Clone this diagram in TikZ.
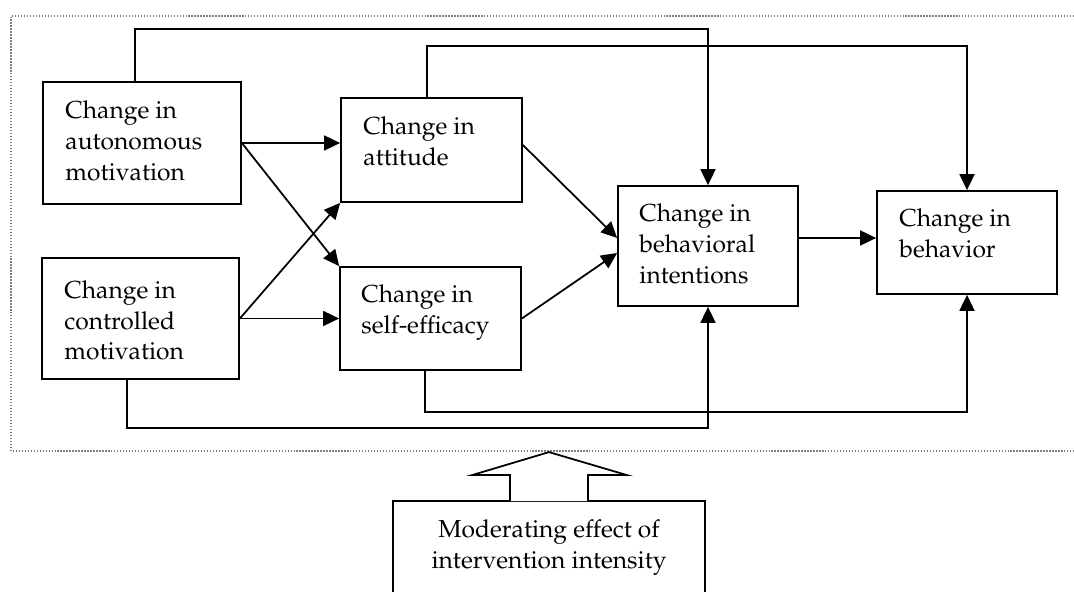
\documentclass[tikz,border=0pt]{standalone}
\usepackage[T1]{fontenc}
\usepackage{mathpazo}
\usepackage{tikz}
\usetikzlibrary{arrows.meta}
\usetikzlibrary{calc}
\usetikzlibrary{positioning}

\begin{document}
\begin{tikzpicture}
	\useasboundingbox (0,0) rectangle (21.48,11.84);
	\clip (0,0) rectangle (21.48,11.84);

	% dotted frame
	\draw[gray, densely dotted, line width=0.7pt] (21.48,11.52) -- (0.22,11.52) -- (0.22,2.82) -- (21.48,2.82);

	\begin{scope}[every node/.style={rectangle, draw, line width=1pt, inner sep=0pt}]
		\node[minimum width=3.96cm, minimum height=2.44cm] (aut) at (2.84,8.98) {};
		\node[minimum width=3.94cm, minimum height=2.42cm] (con) at (2.81,5.47) {};
		\node[minimum width=3.62cm, minimum height=2.08cm] (att) at (8.63,8.84) {};
		\node[minimum width=3.62cm, minimum height=2.06cm] (eff) at (8.61,5.47) {};
		\node[minimum width=3.60cm, minimum height=2.40cm] (int) at (14.16,6.92) {};
		\node[minimum width=3.60cm, minimum height=2.06cm] (beh) at (19.34,6.99) {};
		\node[minimum width=6.24cm, minimum height=3cm] (mod) at (10.98,0.32) {};
	\end{scope}

	\begin{scope}[every node/.style={align=left, inner sep=0pt, font=\fontsize{14}{17.5}\selectfont}]
		\node[below right=0.39cm and 0.46cm of aut.north west] (aut-t) {Change in\\autonomous\\motivation};
		\node[below right=0.46cm and 0.46cm of con.north west] (con-t) {Change in\\controlled\\motivation};
		\node[below right=0.38cm and 0.46cm of att.north west] (att-t) {Change in\\attitude};
		\node[below right=0.36cm and 0.44cm of eff.north west] (eff-t) {Change in\\self-efficacy};
		\node[below right=0.37cm and 0.44cm of int.north west] (int-t) {Change in\\behavioral\\intentions};
		\node[below right=0.37cm and 0.46cm of beh.north west] (beh-t) {Change in\\behavior};
		\node[align=center, below=0.39cm of mod.north] (mod-t) {Moderating effect of\\intervention intensity};
	\end{scope}

	% block arrow
	\draw[line width=1pt, fill=white] ($(mod.north)+(-0.78,-0.02)$) -- ++(0,0.52) -- ++(-0.76,0)
		-- ($(mod.north)+(0,0.96)$) -- ($(mod.north)+(1.56,0.5)$) -- ++(-0.78,0) -- ++(0,-0.52);

	\begin{scope}[>={Triangle[length=0.32cm, width=0.3cm]}, line width=1pt]
		\coordinate (hi) at (0,11.26);
		\coordinate (mid) at (0,10.92);
		\coordinate (low) at (0,3.60);
		\coordinate (lo) at (0,3.28);
		\draw[->] ([xshift=-0.14cm]aut.north) |- (hi -| int.north) -- (int.north);
		\draw[->] ([xshift=-0.09cm]att.north) |- (mid -| beh.north) -- (beh.north);
		\draw[->] (aut.east) -- (aut.east -| att.west);
		\draw[->] (aut.east) -- (eff.north west);
		\draw[->] (con.east) -- (att.south west);
		\draw[->] (con.east) -- (con.east -| eff.west);
		\draw[->] ([yshift=0.1cm]att.east) -- ([yshift=0.16cm]int.west);
		\draw[->] (eff.east) -- ([yshift=-0.14cm]int.west);
		\draw[->] ([yshift=0.16cm]int.east) -- ([yshift=0.16cm]int.east -| beh.west);
		\draw[->] ([xshift=-0.27cm]con.south) |- (lo -| int.south) -- (int.south);
		\draw[->] ([xshift=-0.11cm]eff.south) |- (low -| beh.south) -- (beh.south);
	\end{scope}
\end{tikzpicture}
\end{document}
